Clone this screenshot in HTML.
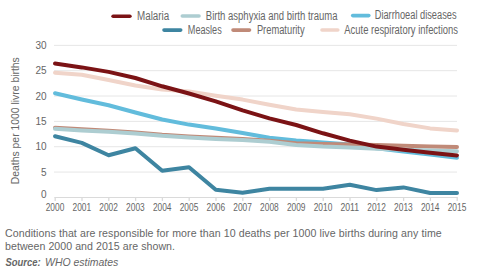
<!DOCTYPE html>
<html><head><meta charset="utf-8"><style>
html,body{margin:0;padding:0;background:#fff;width:480px;height:277px;overflow:hidden}
svg{display:block;font-family:"Liberation Sans",sans-serif}
</style></head><body>
<svg width="480" height="277" viewBox="0 0 480 277">
<line x1="54" x2="457" y1="172.06" y2="172.06" stroke="#e6e6e6" stroke-width="1"/>
<line x1="54" x2="457" y1="146.72" y2="146.72" stroke="#e6e6e6" stroke-width="1"/>
<line x1="54" x2="457" y1="121.38" y2="121.38" stroke="#e6e6e6" stroke-width="1"/>
<line x1="54" x2="457" y1="96.04" y2="96.04" stroke="#e6e6e6" stroke-width="1"/>
<line x1="54" x2="457" y1="70.70" y2="70.70" stroke="#e6e6e6" stroke-width="1"/>
<line x1="54" x2="457" y1="45.36" y2="45.36" stroke="#e6e6e6" stroke-width="1"/>
<line x1="54.5" x2="457" y1="197.5" y2="197.5" stroke="#dadada" stroke-width="1"/>
<line x1="55.20" x2="55.20" y1="197" y2="201" stroke="#dadada" stroke-width="1.3"/>
<line x1="82.00" x2="82.00" y1="197" y2="201" stroke="#dadada" stroke-width="1.3"/>
<line x1="108.80" x2="108.80" y1="197" y2="201" stroke="#dadada" stroke-width="1.3"/>
<line x1="135.60" x2="135.60" y1="197" y2="201" stroke="#dadada" stroke-width="1.3"/>
<line x1="162.40" x2="162.40" y1="197" y2="201" stroke="#dadada" stroke-width="1.3"/>
<line x1="189.20" x2="189.20" y1="197" y2="201" stroke="#dadada" stroke-width="1.3"/>
<line x1="216.00" x2="216.00" y1="197" y2="201" stroke="#dadada" stroke-width="1.3"/>
<line x1="242.80" x2="242.80" y1="197" y2="201" stroke="#dadada" stroke-width="1.3"/>
<line x1="269.60" x2="269.60" y1="197" y2="201" stroke="#dadada" stroke-width="1.3"/>
<line x1="296.40" x2="296.40" y1="197" y2="201" stroke="#dadada" stroke-width="1.3"/>
<line x1="323.20" x2="323.20" y1="197" y2="201" stroke="#dadada" stroke-width="1.3"/>
<line x1="350.00" x2="350.00" y1="197" y2="201" stroke="#dadada" stroke-width="1.3"/>
<line x1="376.80" x2="376.80" y1="197" y2="201" stroke="#dadada" stroke-width="1.3"/>
<line x1="403.60" x2="403.60" y1="197" y2="201" stroke="#dadada" stroke-width="1.3"/>
<line x1="430.40" x2="430.40" y1="197" y2="201" stroke="#dadada" stroke-width="1.3"/>
<line x1="457.20" x2="457.20" y1="197" y2="201" stroke="#dadada" stroke-width="1.3"/>
<text x="46.5" y="198.20" text-anchor="end" font-size="10" fill="#666666">0</text>
<text x="46.5" y="175.66" text-anchor="end" font-size="10" fill="#666666">5</text>
<text x="46.5" y="150.32" text-anchor="end" font-size="10" fill="#666666">10</text>
<text x="46.5" y="124.98" text-anchor="end" font-size="10" fill="#666666">15</text>
<text x="46.5" y="99.64" text-anchor="end" font-size="10" fill="#666666">20</text>
<text x="46.5" y="74.30" text-anchor="end" font-size="10" fill="#666666">25</text>
<text x="46.5" y="48.96" text-anchor="end" font-size="10" fill="#666666">30</text>
<text x="55.00" y="211" text-anchor="middle" font-size="10.2" fill="#666666" textLength="18.6" lengthAdjust="spacingAndGlyphs">2000</text>
<text x="81.80" y="211" text-anchor="middle" font-size="10.2" fill="#666666" textLength="18.6" lengthAdjust="spacingAndGlyphs">2001</text>
<text x="108.60" y="211" text-anchor="middle" font-size="10.2" fill="#666666" textLength="18.6" lengthAdjust="spacingAndGlyphs">2002</text>
<text x="135.40" y="211" text-anchor="middle" font-size="10.2" fill="#666666" textLength="18.6" lengthAdjust="spacingAndGlyphs">2003</text>
<text x="162.20" y="211" text-anchor="middle" font-size="10.2" fill="#666666" textLength="18.6" lengthAdjust="spacingAndGlyphs">2004</text>
<text x="189.00" y="211" text-anchor="middle" font-size="10.2" fill="#666666" textLength="18.6" lengthAdjust="spacingAndGlyphs">2005</text>
<text x="215.80" y="211" text-anchor="middle" font-size="10.2" fill="#666666" textLength="18.6" lengthAdjust="spacingAndGlyphs">2006</text>
<text x="242.60" y="211" text-anchor="middle" font-size="10.2" fill="#666666" textLength="18.6" lengthAdjust="spacingAndGlyphs">2007</text>
<text x="269.40" y="211" text-anchor="middle" font-size="10.2" fill="#666666" textLength="18.6" lengthAdjust="spacingAndGlyphs">2008</text>
<text x="296.20" y="211" text-anchor="middle" font-size="10.2" fill="#666666" textLength="18.6" lengthAdjust="spacingAndGlyphs">2009</text>
<text x="323.00" y="211" text-anchor="middle" font-size="10.2" fill="#666666" textLength="18.6" lengthAdjust="spacingAndGlyphs">2010</text>
<text x="349.80" y="211" text-anchor="middle" font-size="10.2" fill="#666666" textLength="18.6" lengthAdjust="spacingAndGlyphs">2011</text>
<text x="376.60" y="211" text-anchor="middle" font-size="10.2" fill="#666666" textLength="18.6" lengthAdjust="spacingAndGlyphs">2012</text>
<text x="403.40" y="211" text-anchor="middle" font-size="10.2" fill="#666666" textLength="18.6" lengthAdjust="spacingAndGlyphs">2013</text>
<text x="430.20" y="211" text-anchor="middle" font-size="10.2" fill="#666666" textLength="18.6" lengthAdjust="spacingAndGlyphs">2014</text>
<text x="457.00" y="211" text-anchor="middle" font-size="10.2" fill="#666666" textLength="18.6" lengthAdjust="spacingAndGlyphs">2015</text>
<polyline points="55.00,72.70 81.80,74.80 108.60,80.00 135.40,85.50 162.20,89.50 189.00,91.50 215.80,95.80 242.60,99.60 269.40,104.70 296.20,109.50 323.00,112.00 349.80,114.20 376.60,118.60 403.40,124.00 430.20,128.40 457.00,130.40" fill="none" stroke="#f0d4c9" stroke-width="4" stroke-linecap="round" stroke-linejoin="round"/>
<polyline points="55.00,136.30 81.80,142.90 108.60,155.20 135.40,148.20 162.20,170.80 189.00,167.20 215.80,189.70 242.60,192.70 269.40,188.80 296.20,188.80 323.00,188.80 349.80,184.70 376.60,190.10 403.40,187.40 430.20,193.00 457.00,193.00" fill="none" stroke="#3e85a1" stroke-width="4" stroke-linecap="round" stroke-linejoin="round"/>
<polyline points="55.00,93.20 81.80,99.50 108.60,105.20 135.40,112.50 162.20,119.50 189.00,124.60 215.80,128.60 242.60,133.00 269.40,137.70 296.20,140.40 323.00,142.50 349.80,144.60 376.60,148.30 403.40,151.50 430.20,154.50 457.00,157.80" fill="none" stroke="#62bcdc" stroke-width="4" stroke-linecap="round" stroke-linejoin="round"/>
<polyline points="55.00,127.70 81.80,129.30 108.60,130.70 135.40,132.50 162.20,134.80 189.00,136.40 215.80,137.80 242.60,138.90 269.40,140.70 296.20,143.20 323.00,144.10 349.80,144.60 376.60,145.10 403.40,145.80 430.20,146.50 457.00,146.90" fill="none" stroke="#c08a78" stroke-width="4" stroke-linecap="round" stroke-linejoin="round"/>
<polyline points="55.00,128.80 81.80,130.50 108.60,131.80 135.40,133.50 162.20,135.80 189.00,137.50 215.80,138.90 242.60,140.00 269.40,141.80 296.20,145.00 323.00,146.60 349.80,147.60 376.60,148.70 403.40,149.80 430.20,150.50 457.00,151.20" fill="none" stroke="#adcdd1" stroke-width="4" stroke-linecap="round" stroke-linejoin="round"/>
<polyline points="55.00,63.60 81.80,67.40 108.60,71.90 135.40,78.00 162.20,86.30 189.00,93.50 215.80,101.30 242.60,110.40 269.40,118.40 296.20,125.00 323.00,133.30 349.80,140.60 376.60,146.60 403.40,149.80 430.20,152.80 457.00,155.40" fill="none" stroke="#7b1315" stroke-width="4" stroke-linecap="round" stroke-linejoin="round"/>
<line x1="113.10" x2="129.90" y1="16.30" y2="16.30" stroke="#7b1315" stroke-width="3.6" stroke-linecap="round"/>
<text x="137.00" y="19.50" font-size="12" fill="#666666" textLength="32.20" lengthAdjust="spacingAndGlyphs">Malaria</text>
<line x1="182.30" x2="199.00" y1="16.00" y2="16.00" stroke="#adcdd1" stroke-width="3.6" stroke-linecap="round"/>
<text x="205.80" y="19.50" font-size="12" fill="#666666" textLength="131.70" lengthAdjust="spacingAndGlyphs">Birth asphyxia and birth trauma</text>
<line x1="352.70" x2="368.80" y1="15.60" y2="15.60" stroke="#62bcdc" stroke-width="3.6" stroke-linecap="round"/>
<text x="374.70" y="19.30" font-size="12" fill="#666666" textLength="81.90" lengthAdjust="spacingAndGlyphs">Diarrhoeal diseases</text>
<line x1="164.00" x2="180.70" y1="30.10" y2="30.10" stroke="#3e85a1" stroke-width="3.6" stroke-linecap="round"/>
<text x="187.80" y="33.60" font-size="12" fill="#666666" textLength="33.90" lengthAdjust="spacingAndGlyphs">Measles</text>
<line x1="233.00" x2="249.50" y1="30.10" y2="30.10" stroke="#c08a78" stroke-width="3.6" stroke-linecap="round"/>
<text x="256.90" y="33.60" font-size="12" fill="#666666" textLength="47.70" lengthAdjust="spacingAndGlyphs">Prematurity</text>
<line x1="322.00" x2="337.80" y1="30.00" y2="30.00" stroke="#f0d4c9" stroke-width="3.6" stroke-linecap="round"/>
<text x="344.30" y="33.60" font-size="12" fill="#666666" textLength="113.70" lengthAdjust="spacingAndGlyphs">Acute respiratory infections</text>
<text transform="translate(19,184.2) rotate(-90)" x="0" y="0" font-size="10.5" fill="#666666" textLength="127" lengthAdjust="spacingAndGlyphs">Deaths per 1000 livre births</text>
<text x="5" y="237.1" font-size="10.6" fill="#666666" textLength="436.7" lengthAdjust="spacing">Conditions that are responsible for more than 10 deaths per 1000 live births during any time</text>
<text x="5" y="250" font-size="10.6" fill="#666666" textLength="170" lengthAdjust="spacing">between 2000 and 2015 are shown.</text>
<text x="5.4" y="265.7" font-size="10.5" fill="#666666" font-style="italic" font-weight="bold" textLength="35.2" lengthAdjust="spacingAndGlyphs">Source:</text>
<text x="45" y="265.7" font-size="10.5" fill="#666666" font-style="italic" textLength="73.3" lengthAdjust="spacingAndGlyphs">WHO estimates</text>
</svg>
</body></html>
